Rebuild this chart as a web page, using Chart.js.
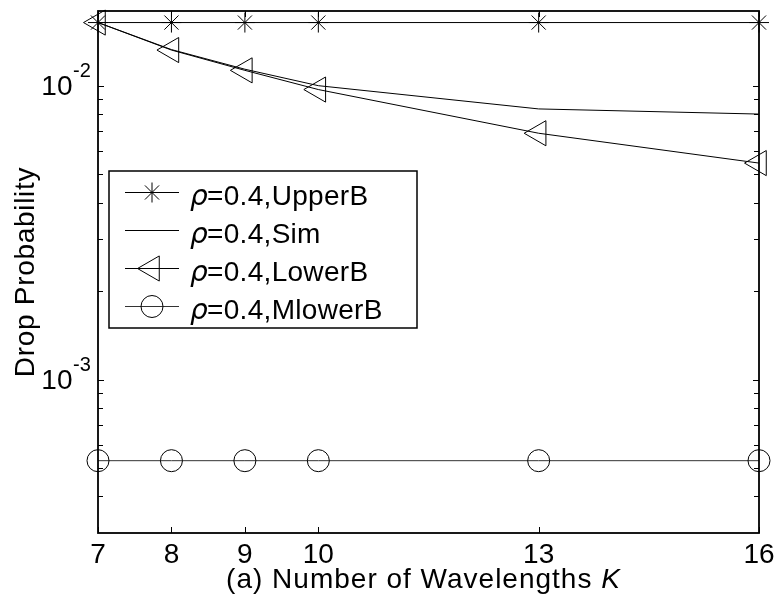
<!DOCTYPE html>
<html>
<head>
<meta charset="utf-8">
<script src="https://cdn.jsdelivr.net/npm/chart.js@4.4.0/dist/chart.umd.min.js"></script>
<style>
  html, body { margin: 0; padding: 0; background: #fff; }
  #wrap { width: 778px; height: 602px; }
</style>
</head>
<body>
<div id="wrap"><canvas id="dropChart" width="778" height="602"></canvas></div>
<script>
// number of wavelengths K
const kValues = [7, 8, 9, 10, 13, 16];

// drop probability per series (rho = 0.4)
const upperB  = [0.01644, 0.01644, 0.01644, 0.01644, 0.01644, 0.01644];
const sim     = [0.01644, 0.01330, 0.01140, 0.01002, 0.00835, 0.00802];
const lowerB  = [0.01644, 0.01325, 0.01130, 0.00972, 0.00690, 0.00546];
const mlowerB = [0.000529, 0.000529, 0.000529, 0.000529, 0.000529, 0.000529];

// axis ticks
const xTicks = [7, 8, 9, 10, 13, 16];
const yMajor = [0.001, 0.01];
const yMajorExp = ['-3', '-2'];
const yMinor = [0.0004, 0.0005, 0.0006, 0.0007, 0.0008, 0.0009,
                0.002, 0.003, 0.004, 0.005, 0.006, 0.007, 0.008, 0.009];

const seriesNames = ['=0.4,UpperB', '=0.4,Sim', '=0.4,LowerB', '=0.4,MlowerB'];

const FONT = '"Liberation Sans", Arial, sans-serif';

function pts(ys) {
    return kValues.map((k, i) => ({ x: k, y: ys[i] }));
}

const common = {
    borderColor: '#000',
    borderWidth: 1,
    pointBorderColor: '#000',
    pointBackgroundColor: 'rgba(0,0,0,0)',
    pointBorderWidth: 1,
    pointHoverRadius: 0,
    tension: 0,
    fill: false,
    clip: false
};

const datasets = [
    Object.assign({}, common, { label: seriesNames[0], data: pts(upperB), pointStyle: 'star', pointRadius: 10 }),
    Object.assign({}, common, { label: seriesNames[1], data: pts(sim), pointRadius: 0 }),
    Object.assign({}, common, { label: seriesNames[2], data: pts(lowerB), pointStyle: 'triangle', pointRotation: -90, pointRadius: 14.5 }),
    Object.assign({}, common, { label: seriesNames[3], data: pts(mlowerB), pointStyle: 'circle', pointRadius: 11, borderColor: '#333' })
];

// axes box, inward ticks, labels and the legend
const frame = {
    id: 'frame',
    afterDatasetsDraw(chart) {
        const ctx = chart.ctx;
        const a = chart.chartArea;
        const xs = chart.scales.x, ys = chart.scales.y;
        ctx.save();
        ctx.strokeStyle = '#000';
        ctx.fillStyle = '#000';

        // box
        ctx.lineWidth = 1.8;
        ctx.strokeRect(a.left, a.top, a.right - a.left, a.bottom - a.top);

        // x ticks (bottom + top)
        ctx.lineWidth = 1;
        xTicks.forEach(v => {
            const px = Math.round(xs.getPixelForValue(v)) + 0.5;
            ctx.beginPath();
            ctx.moveTo(px, a.bottom); ctx.lineTo(px, a.bottom - 6);
            ctx.moveTo(px, a.top); ctx.lineTo(px, a.top + 6);
            ctx.stroke();
        });
        // y ticks (left + right)
        const yTick = (v, len) => {
            const py = Math.round(ys.getPixelForValue(v)) + 0.5;
            ctx.beginPath();
            ctx.moveTo(a.left, py); ctx.lineTo(a.left + len, py);
            ctx.moveTo(a.right, py); ctx.lineTo(a.right - len, py);
            ctx.stroke();
        };
        yMinor.forEach(v => yTick(v, 5));
        yMajor.forEach(v => yTick(v, 6));

        // x tick labels
        ctx.font = '28px ' + FONT;
        ctx.textAlign = 'center';
        ctx.textBaseline = 'alphabetic';
        xTicks.forEach(v => {
            ctx.fillText(String(v), xs.getPixelForValue(v), 563);
        });

        // y tick labels 10^n
        yMajor.forEach((v, i) => {
            const py = ys.getPixelForValue(v);
            ctx.font = '28px ' + FONT;
            ctx.textAlign = 'right';
            ctx.fillText('10', 72.5, py + 9);
            ctx.font = '20px ' + FONT;
            ctx.textAlign = 'left';
            ctx.fillText(yMajorExp[i], 73, py - 9);
        });

        // x title
        ctx.letterSpacing = '1px';
        ctx.textAlign = 'left';
        const t1 = '(a) Number of Wavelengths ';
        ctx.font = 'italic 28px ' + FONT;
        const wK = ctx.measureText('K').width;
        ctx.font = '28px ' + FONT;
        const w1 = ctx.measureText(t1).width;
        const x0 = (a.left + a.right) / 2 - 5 - (w1 + wK) / 2;
        ctx.fillText(t1, x0, 588);
        ctx.font = 'italic 28px ' + FONT;
        ctx.fillText('K', x0 + w1, 588);

        // y title
        ctx.letterSpacing = '0.7px';
        ctx.save();
        ctx.translate(34, (a.top + a.bottom) / 2);
        ctx.rotate(-Math.PI / 2);
        ctx.font = '28px ' + FONT;
        ctx.textAlign = 'center';
        ctx.fillText('Drop Probability', 0, 0);
        ctx.restore();

        // legend
        ctx.letterSpacing = '0.3px';
        const lx = 109, ly = 171, lw = 308, lh = 157;
        ctx.fillStyle = '#fff';
        ctx.fillRect(lx, ly, lw, lh);
        ctx.lineWidth = 1.5;
        ctx.strokeRect(lx, ly, lw, lh);
        chart.data.datasets.forEach((ds, i) => {
            const cy = 192 + i * 38;
            ctx.strokeStyle = ds.borderColor;
            ctx.lineWidth = 1;
            ctx.beginPath();
            ctx.moveTo(125, cy + 0.5); ctx.lineTo(179, cy + 0.5);
            ctx.stroke();
            if (ds.pointRadius > 0) {
                ctx.strokeStyle = '#000';
                ctx.fillStyle = 'rgba(0,0,0,0)';
                Chart.helpers.drawPoint(ctx, {
                    pointStyle: ds.pointStyle,
                    rotation: ds.pointRotation || 0,
                    radius: ds.pointRadius,
                    borderWidth: 1
                }, 152, cy + 0.5);
            }
            ctx.fillStyle = '#000';
            ctx.textAlign = 'left';
            ctx.font = 'italic 28px "DejaVu Sans", ' + FONT;
            ctx.fillText('\u03c1', 190, cy + 13);
            const wr = ctx.measureText('\u03c1').width;
            ctx.font = '28px ' + FONT;
            ctx.fillText(ds.label, 190 + wr - 1, cy + 13);
        });
        ctx.letterSpacing = '0px';
        ctx.restore();
    }
};

new Chart(document.getElementById('dropChart').getContext('2d'), {
    type: 'line',
    data: { datasets: datasets },
    options: {
        responsive: false,
        animation: false,
        devicePixelRatio: 1,
        layout: { padding: { left: 98, right: 19, top: 11, bottom: 69 }, autoPadding: false },
        plugins: { legend: { display: false }, tooltip: { enabled: false } },
        scales: {
            x: { type: 'linear', min: 7, max: 16, display: false },
            y: { type: 'logarithmic', min: 0.0003, max: 0.018, display: false }
        }
    },
    plugins: [frame]
});
</script>
</body>
</html>
